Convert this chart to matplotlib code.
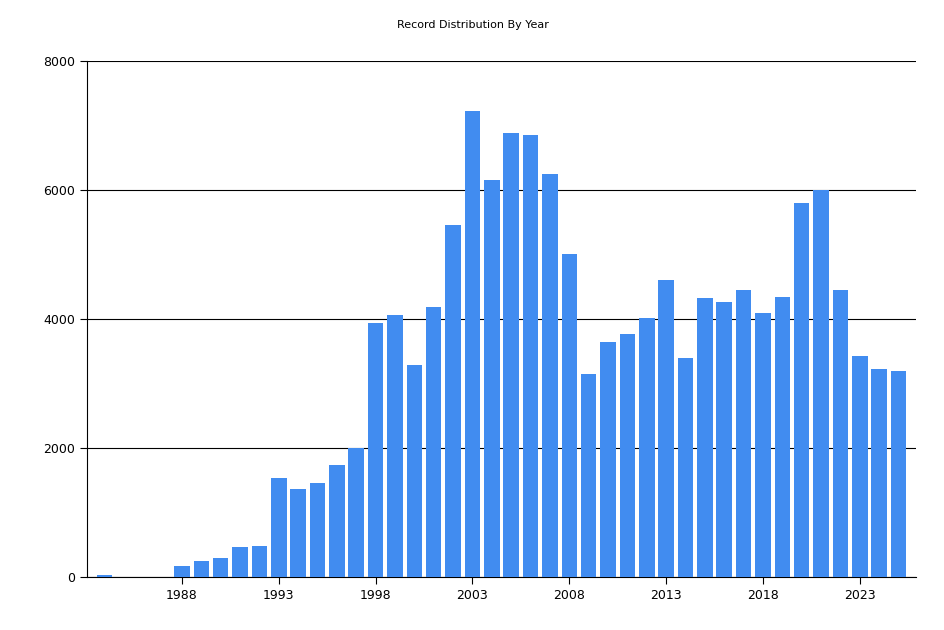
import matplotlib
matplotlib.use("Agg")
import matplotlib.pyplot as plt

years = list(range(1984, 2026))
counts = [30, 0, 0, 0, 170, 250, 300, 460, 480, 1540, 1360, 1450, 1740, 2000,
          3940, 4060, 3290, 4190, 5460, 7220, 6160, 6890, 6860, 6250, 5010, 3150,
          3650, 3770, 4020, 4610, 3400, 4330, 4260, 4450, 4090, 4340, 5800, 6000,
          4450, 3430, 3230, 3190]
xticks = [1988, 1993, 1998, 2003, 2008, 2013, 2018, 2023]
yticks = [0, 2000, 4000, 6000, 8000]

fig = plt.figure(figsize=(9.45, 6.3), dpi=100)
ax = fig.add_axes([87/945, 1-577/630, (916-87)/945, (577-61)/630])
ax.bar(years, counts, width=0.8, color="#418CF0", zorder=3)
ax.set_xlim(1983.1, 2025.9)
ax.set_ylim(0, 8000)
ax.set_yticks(yticks)
ax.set_xticks(xticks)
ax.tick_params(labelsize=9, length=5)
ax.grid(axis="y", color="black", linewidth=0.8, zorder=1)
for s in ["top", "right"]:
    ax.spines[s].set_visible(False)
fig.suptitle("Record Distribution By Year", y=1-20/630, fontsize=8)
fig.savefig("out.png", dpi=100)
